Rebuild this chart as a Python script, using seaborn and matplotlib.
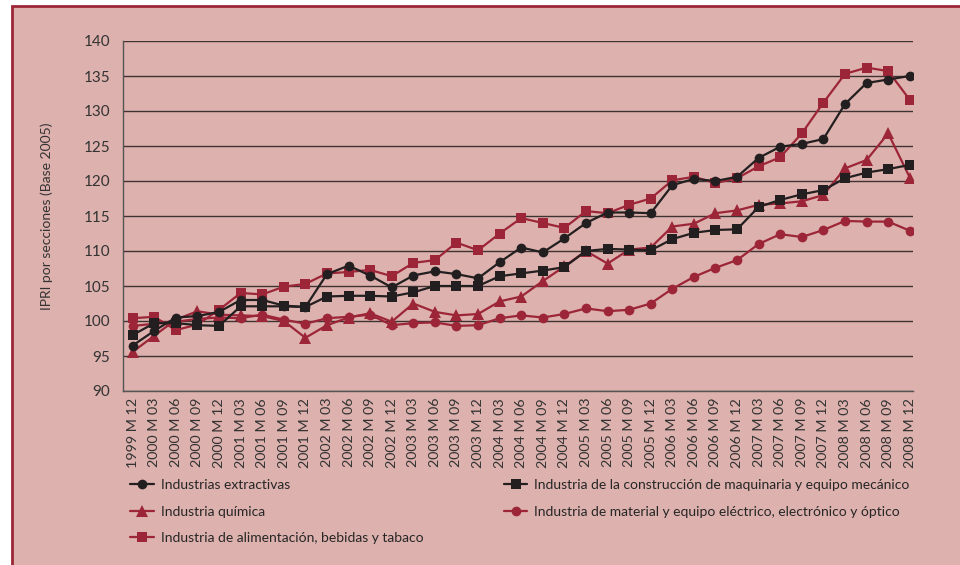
import numpy as np
import pandas as pd
import matplotlib
matplotlib.use("Agg")
import matplotlib.pyplot as plt
from matplotlib.patches import Rectangle
import seaborn as sns

# Periodos trimestrales
periods = ["1999 M 12",
           "2000 M 03", "2000 M 06", "2000 M 09", "2000 M 12",
           "2001 M 03", "2001 M 06", "2001 M 09", "2001 M 12",
           "2002 M 03", "2002 M 06", "2002 M 09", "2002 M 12",
           "2003 M 03", "2003 M 06", "2003 M 09", "2003 M 12",
           "2004 M 03", "2004 M 06", "2004 M 09", "2004 M 12",
           "2005 M 03", "2005 M 06", "2005 M 09", "2005 M 12",
           "2006 M 03", "2006 M 06", "2006 M 09", "2006 M 12",
           "2007 M 03", "2007 M 06", "2007 M 09", "2007 M 12",
           "2008 M 03", "2008 M 06", "2008 M 09", "2008 M 12"]

extractivas = [96.5, 98.6, 100.5, 100.7, 101.3, 103.0, 103.0, 102.2, 102.0,
               106.7, 107.9, 106.5, 104.8, 106.5, 107.1, 106.7, 106.1,
               108.4, 110.5, 109.8, 111.8, 114.0, 115.5, 115.5, 115.4,
               119.4, 120.3, 120.0, 120.6, 123.3, 124.9, 125.3, 126.0,
               131.0, 134.0, 134.5, 135.0]
quimica = [95.6, 97.9, 100.2, 101.4, 100.9, 100.8, 100.7, 100.0, 97.6,
           99.4, 100.5, 101.1, 99.9, 102.5, 101.3, 100.8, 101.0,
           102.8, 103.5, 105.7, 107.8, 110.0, 108.2, 110.2, 110.5,
           113.5, 113.9, 115.4, 115.8, 116.6, 116.8, 117.1, 118.0,
           121.8, 123.0, 126.8, 120.5]
alimentacion = [100.4, 100.6, 98.7, 99.5, 101.6, 104.0, 103.8, 104.9, 105.3,
                106.8, 107.0, 107.3, 106.4, 108.3, 108.7, 111.2, 110.1,
                112.5, 114.7, 114.0, 113.3, 115.7, 115.4, 116.6, 117.5,
                120.1, 120.6, 119.7, 120.4, 122.1, 123.4, 126.8, 131.2,
                135.3, 136.2, 135.7, 131.6]
maquinaria = [98.0, 99.7, 99.7, 99.4, 99.3, 102.1, 102.1, 102.1, 102.0,
              103.5, 103.6, 103.6, 103.5, 104.1, 105.0, 105.0, 105.0,
              106.4, 106.8, 107.2, 107.7, 110.0, 110.3, 110.2, 110.1,
              111.7, 112.6, 113.0, 113.1, 116.3, 117.3, 118.1, 118.7,
              120.4, 121.2, 121.7, 122.3]
electrico = [99.3, 99.6, 99.9, 100.3, 100.5, 100.4, 100.9, 100.2, 99.6,
             100.4, 100.6, 100.9, 99.4, 99.7, 99.8, 99.3, 99.4,
             100.4, 100.8, 100.5, 101.0, 101.8, 101.4, 101.6, 102.5,
             104.6, 106.3, 107.6, 108.7, 111.0, 112.4, 112.0, 113.0,
             114.3, 114.2, 114.2, 112.9]

BG = "#DDB1AD"
RED = "#9C2638"
BLACK = "#231F20"

series = [
    ("Industrias extractivas", extractivas, BLACK, "o", 7),
    ("Industria química", quimica, RED, "^", 8.5),
    ("Industria de alimentación, bebidas y tabaco", alimentacion, RED, "s", 7.5),
    ("Industria de la construcción de maquinaria y equipo mecánico", maquinaria, BLACK, "s", 7.5),
    ("Industria de material y equipo eléctrico, electrónico y óptico", electrico, RED, "o", 7),
]

sns.set_style("white")
plt.rcParams["font.family"] = ["Lato", "DejaVu Sans"]

fig = plt.figure(figsize=(9.6, 5.65), dpi=100, facecolor="white")
fig.patches.append(Rectangle((12 / 960, -0.05), 1.1, 1 - 5.5 / 565 + 0.05,
                             transform=fig.transFigure, facecolor=BG,
                             edgecolor="#9C2638", linewidth=2, zorder=-10))

ax = fig.add_axes([123 / 960, 1 - 391 / 565, (913 - 123) / 960, (391 - 41) / 565])
ax.set_facecolor(BG)

x = np.arange(len(periods))
# dibujar en orden inverso para que las series negras queden encima
draw_order = [4, 1, 2, 3, 0]
for k in draw_order:
    name, vals, col, mk, ms = series[k]
    df = pd.DataFrame({"x": x, "y": vals})
    sns.lineplot(data=df, x="x", y="y", ax=ax, color=col, marker=mk,
                 markersize=ms, markeredgewidth=0, linewidth=1.6,
                 label=name, zorder=3 + (k in (0, 3)))

ax.set_ylim(90, 140)
ax.set_yticks(range(90, 141, 5))
ax.set_xlim(-0.45, 36.15)
ax.set_xticks(x)
ax.set_xticklabels(periods, rotation=90, fontsize=10.3, color="#333333")
ax.set_xticks(np.arange(0.5, 36, 1), minor=True)
ax.tick_params(axis="x", which="major", length=0, pad=5)
ax.tick_params(axis="x", which="minor", length=5, width=0.8, color="#555555", direction="out")
ax.tick_params(axis="y", length=6, width=0.8, color="#555555", labelsize=11, labelcolor="#333333", pad=3)
ax.grid(axis="y", color="#3E3232", linewidth=1.0)
ax.set_axisbelow(True)
for s in ["top", "right"]:
    ax.spines[s].set_visible(False)
for s in ["left", "bottom"]:
    ax.spines[s].set_color("#555555")
    ax.spines[s].set_linewidth(1.0)
ax.set_xlabel("")
ax.set_ylabel("IPRI por secciones (Base 2005)", fontsize=10, color="#333333", labelpad=22)

handles, labels = ax.get_legend_handles_labels()
order = [labels.index(s[0]) for s in series]
ax.legend([handles[i] for i in order], [labels[i] for i in order],
          ncol=2, loc="upper left", bbox_to_anchor=(130 / 960, 1 - 479 / 565),
          bbox_transform=fig.transFigure, frameon=False, fontsize=10,
          borderpad=0, borderaxespad=0,
          handlelength=1.7, labelspacing=1.05, columnspacing=5.8,
          handletextpad=0.5)

fig.savefig("out.png", dpi=100, facecolor="white")
